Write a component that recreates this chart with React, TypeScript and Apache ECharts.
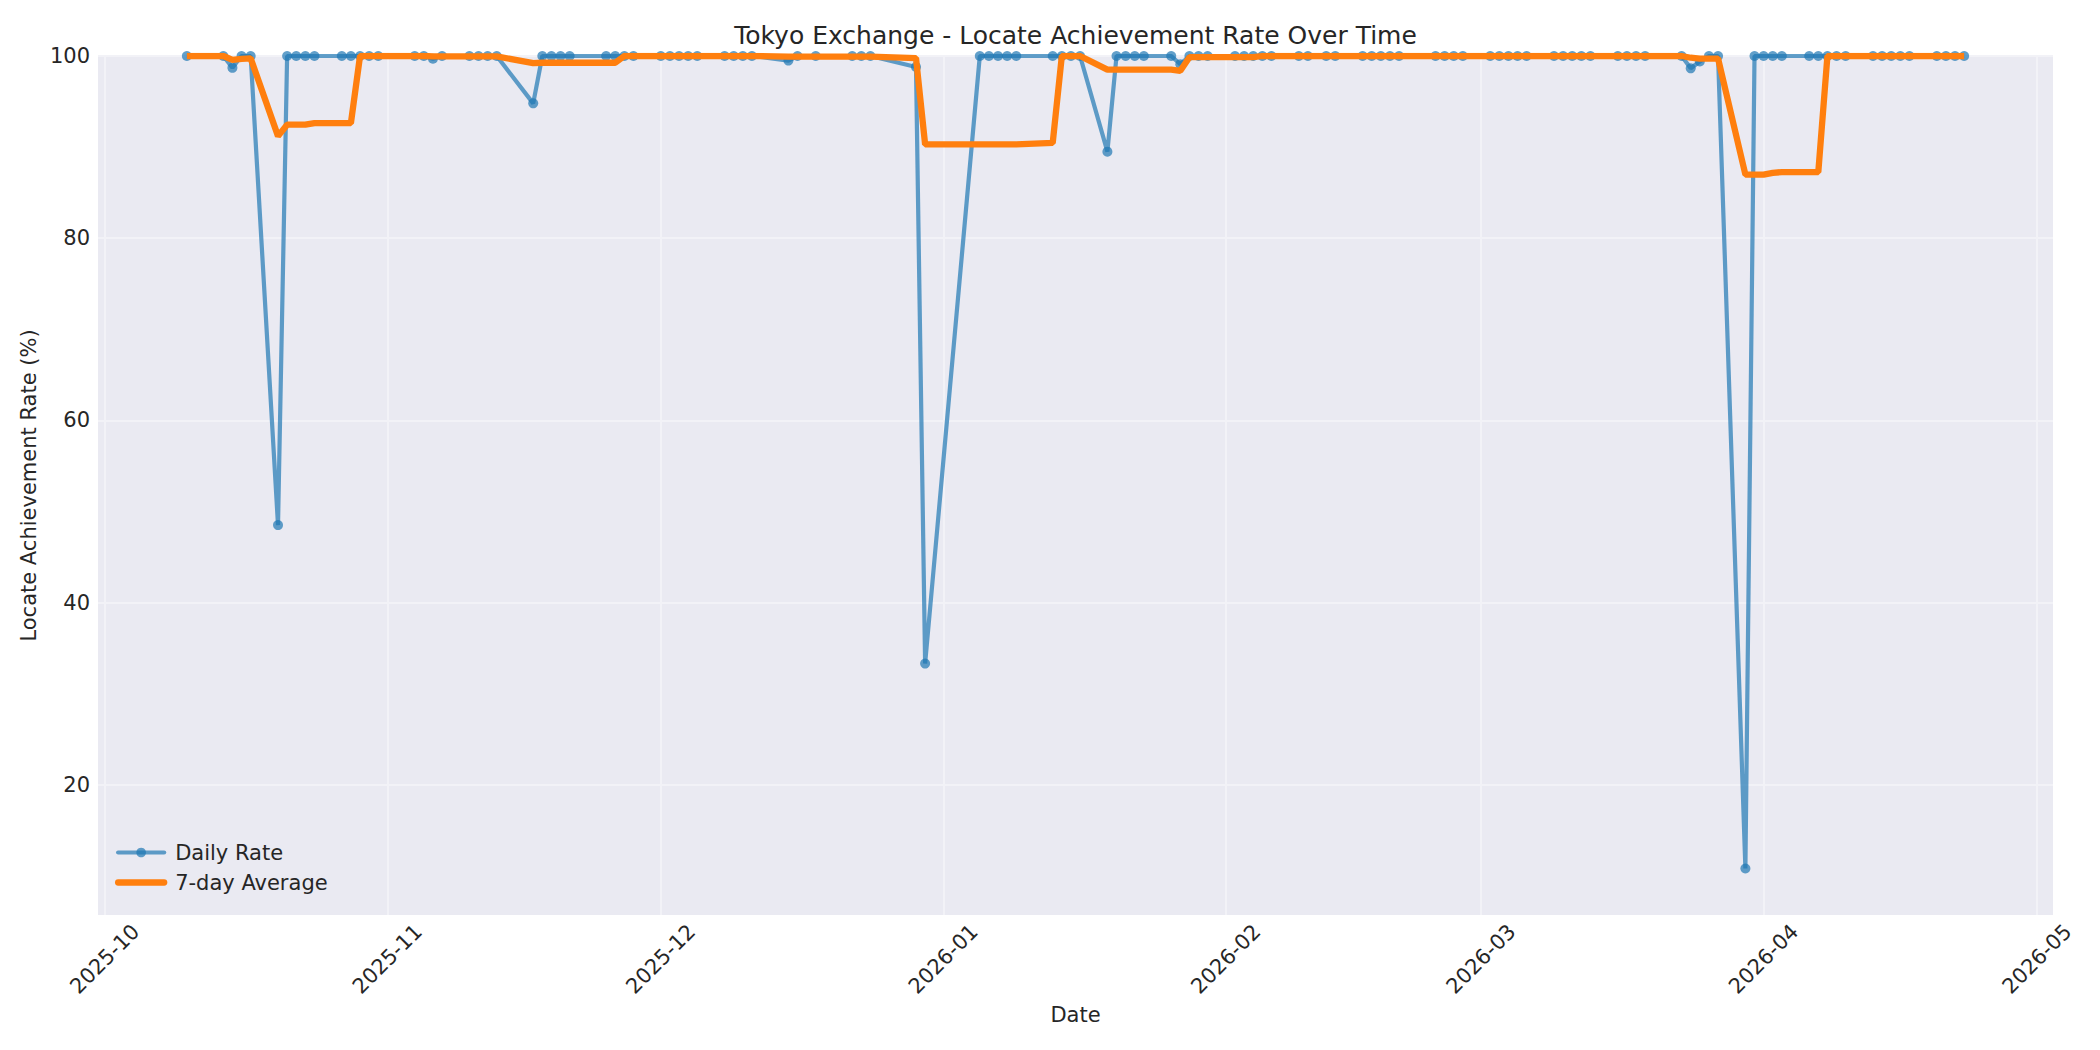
import { useEffect, useRef } from "react";
import * as echarts from "echarts";

// trading days that have a record (holidays / missing days skipped)
const dates = [
  "2025-10-10", "2025-10-14", "2025-10-15", "2025-10-16", "2025-10-17", "2025-10-20", "2025-10-21", "2025-10-22",
  "2025-10-23", "2025-10-24", "2025-10-27", "2025-10-28", "2025-10-29", "2025-10-30", "2025-10-31",
  "2025-11-04", "2025-11-05", "2025-11-06", "2025-11-07", "2025-11-10", "2025-11-11", "2025-11-12", "2025-11-13",
  "2025-11-17", "2025-11-18", "2025-11-19", "2025-11-20", "2025-11-21", "2025-11-25", "2025-11-26", "2025-11-27",
  "2025-11-28",
  "2025-12-01", "2025-12-02", "2025-12-03", "2025-12-04", "2025-12-05", "2025-12-08", "2025-12-09", "2025-12-10",
  "2025-12-11", "2025-12-15", "2025-12-16", "2025-12-18", "2025-12-22", "2025-12-23", "2025-12-24", "2025-12-29",
  "2025-12-30",
  "2026-01-05", "2026-01-06", "2026-01-07", "2026-01-08", "2026-01-09", "2026-01-13", "2026-01-14", "2026-01-15",
  "2026-01-16", "2026-01-19", "2026-01-20", "2026-01-21", "2026-01-22", "2026-01-23", "2026-01-26", "2026-01-27",
  "2026-01-28", "2026-01-29", "2026-01-30",
  "2026-02-02", "2026-02-03", "2026-02-04", "2026-02-05", "2026-02-06", "2026-02-09", "2026-02-10", "2026-02-12",
  "2026-02-13", "2026-02-16", "2026-02-17", "2026-02-18", "2026-02-19", "2026-02-20", "2026-02-24", "2026-02-25",
  "2026-02-26", "2026-02-27",
  "2026-03-02", "2026-03-03", "2026-03-04", "2026-03-05", "2026-03-06", "2026-03-09", "2026-03-10", "2026-03-11",
  "2026-03-12", "2026-03-13", "2026-03-16", "2026-03-17", "2026-03-18", "2026-03-19", "2026-03-23", "2026-03-24",
  "2026-03-25", "2026-03-26", "2026-03-27", "2026-03-30", "2026-03-31",
  "2026-04-01", "2026-04-02", "2026-04-03", "2026-04-06", "2026-04-07", "2026-04-08", "2026-04-09", "2026-04-10",
  "2026-04-13", "2026-04-14", "2026-04-15", "2026-04-16", "2026-04-17", "2026-04-20", "2026-04-21", "2026-04-22",
  "2026-04-23",
];

const dailyRate = [
  100, 100, 98.7, 100, 100, 48.5, 100, 100, 100, 100, 100, 100, 100, 100, 100,
  100, 100, 99.7, 100, 100, 100, 100, 100, 94.8, 100, 100, 100, 100, 100, 100, 100, 100,
  100, 100, 100, 100, 100, 100, 100, 100, 100, 99.5, 100, 100, 100, 100, 100, 98.8, 33.3,
  100, 100, 100, 100, 100, 100, 100, 100, 100, 89.5, 100, 100, 100, 100, 100, 99.1, 100, 100, 100,
  100, 100, 100, 100, 100, 100, 100, 100, 100, 100, 100, 100, 100, 100, 100, 100, 100, 100,
  100, 100, 100, 100, 100, 100, 100, 100, 100, 100, 100, 100, 100, 100, 100, 98.65, 99.4, 100, 100, 10.8, 100,
  100, 100, 100, 100, 100, 100, 100, 100, 100, 100, 100, 100, 100, 100, 100, 100, 100,
];

const avgRate = [
  100, 100, 99.57, 99.68, 99.74, 91.2, 92.46, 92.46, 92.46, 92.64, 92.64, 92.64, 100, 100, 100,
  100, 100, 99.96, 99.96, 99.96, 99.96, 99.96, 99.96, 99.21, 99.26, 99.26, 99.26, 99.26, 99.26, 99.26, 100, 100,
  100, 100, 100, 100, 100, 100, 100, 100, 100, 99.93, 99.93, 99.93, 99.93, 99.93, 99.93, 99.76, 90.3,
  90.3, 90.3, 90.3, 90.3, 90.3, 90.47, 100, 100, 100, 98.5, 98.5, 98.5, 98.5, 98.5, 98.5, 98.37, 99.87, 99.87, 99.87,
  99.87, 99.87, 99.87, 100, 100, 100, 100, 100, 100, 100, 100, 100, 100, 100, 100, 100, 100, 100,
  100, 100, 100, 100, 100, 100, 100, 100, 100, 100, 100, 100, 100, 100, 100, 99.81, 99.72, 99.72, 99.72, 86.98, 86.98,
  86.98, 87.17, 87.26, 87.26, 87.26, 100, 100, 100, 100, 100, 100, 100, 100, 100, 100, 100, 100,
];

const monthTicks = [
  "2025-10-01", "2025-11-01", "2025-12-01", "2026-01-01",
  "2026-02-01", "2026-03-01", "2026-04-01", "2026-05-01",
];
const yTicks = [20, 40, 60, 80, 100];

const toTime = (s: string) => {
  const [y, m, d] = s.split("-").map(Number);
  return Date.UTC(y, m - 1, d);
};

export default function App() {
  const chartRef = useRef<HTMLDivElement>(null);

  useEffect(() => {
    if (!chartRef.current) return;
    const chart = echarts.init(chartRef.current, undefined, { renderer: "svg" });

    const font = "DejaVu Sans";
    const textColor = "#262626";
    const gridColor = "#F2F2F7";
    const blue = "#1f77b4";
    const orange = "#ff7f0e";
    const tickTimes = monthTicks.map(toTime);

    const option: echarts.EChartsOption = {
      animation: false,
      backgroundColor: "#ffffff",
      textStyle: { fontFamily: font, color: textColor },
      graphic: [
        {
          type: "text",
          x: 1075.5,
          y: 35,
          style: {
            text: "Tokyo Exchange - Locate Achievement Rate Over Time",
            fontFamily: font,
            fontSize: 25,
            fill: textColor,
            align: "center",
            verticalAlign: "middle",
          },
        },
      ],
      grid: {
        left: 98,
        right: 47,
        top: 56,
        bottom: 135,
        show: true,
        backgroundColor: "#EAEAF2",
        borderWidth: 0,
      },
      legend: {
        orient: "vertical",
        left: 110,
        top: 837,
        itemWidth: 46,
        itemHeight: 12,
        itemGap: 9,
        textStyle: { fontFamily: font, fontSize: 21, color: textColor, padding: [0, 0, 0, 6] },
        data: [
          { name: "Daily Rate", lineStyle: { width: 4.2, cap: "round" } },
          { name: "7-day Average", itemStyle: { opacity: 0 }, lineStyle: { width: 6.3, cap: "round" } },
        ],
      },
      xAxis: {
        // timestamps on a plain value axis, month starts as custom ticks
        type: "value",
        min: Date.UTC(2025, 8, 30, 6),
        max: Date.UTC(2026, 4, 2, 18),
        name: "Date",
        nameLocation: "middle",
        nameGap: 89,
        nameTextStyle: { fontFamily: font, fontSize: 21, color: textColor },
        axisLine: { show: false },
        axisTick: { show: false, customValues: tickTimes },
        splitLine: { show: true, lineStyle: { color: gridColor, width: 2 } },
        axisLabel: {
          customValues: tickTimes,
          rotate: 45,
          margin: 44,
          align: "center",
          verticalAlign: "middle",
          fontFamily: font,
          fontSize: 21,
          color: textColor,
          formatter: (v: number) => {
            const d = new Date(v);
            return `${d.getUTCFullYear()}-${String(d.getUTCMonth() + 1).padStart(2, "0")}`;
          },
        },
      },
      yAxis: {
        type: "value",
        min: 5.7,
        max: 100,
        name: "Locate Achievement Rate (%)",
        nameLocation: "middle",
        nameGap: 46,
        nameTextStyle: { fontFamily: font, fontSize: 21, color: textColor },
        axisLine: { show: false },
        axisTick: { show: false, customValues: yTicks },
        splitLine: { show: true, lineStyle: { color: gridColor, width: 2 } },
        axisLabel: {
          customValues: yTicks,
          margin: 8,
          fontFamily: font,
          fontSize: 21,
          color: textColor,
        },
      },
      series: [
        {
          name: "Daily Rate",
          type: "line",
          data: dates.map((d, i) => [toTime(d), dailyRate[i]]),
          symbol: "circle",
          symbolSize: 10,
          showSymbol: true,
          lineStyle: { color: blue, width: 4.2, opacity: 0.7 },
          itemStyle: { color: blue, opacity: 0.7 },
          z: 2,
        },
        {
          name: "7-day Average",
          type: "line",
          data: dates.map((d, i) => [toTime(d), avgRate[i]]),
          symbol: "none",
          lineStyle: { color: orange, width: 6.3 },
          itemStyle: { color: orange },
          z: 3,
        },
      ],
    };

    chart.setOption(option);
    return () => chart.dispose();
  }, []);

  return (
    <div
      ref={chartRef}
      style={{ position: "fixed", left: 0, top: 0, width: 2100, height: 1050 }}
    />
  );
}
